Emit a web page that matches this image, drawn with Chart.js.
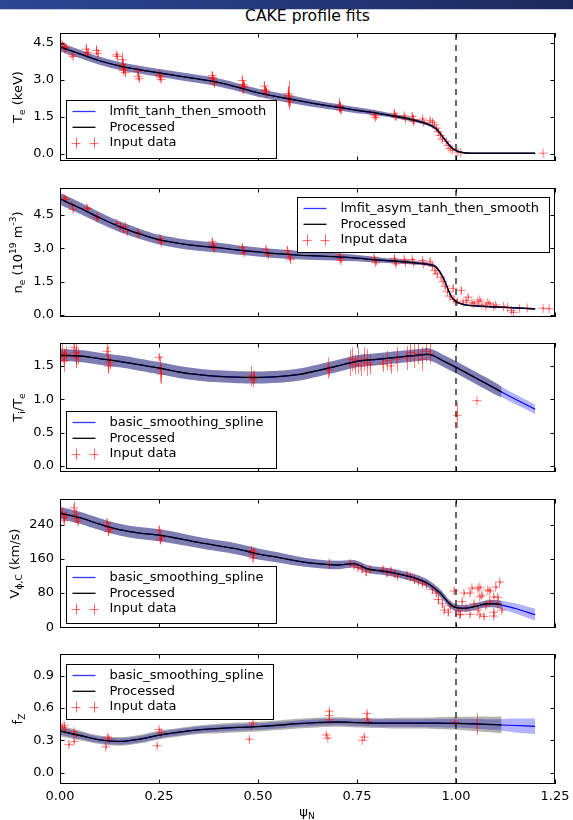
<!DOCTYPE html>
<html>
<head>
<meta charset="utf-8">
<script src="https://cdn.jsdelivr.net/npm/chart.js@4.4.1/dist/chart.umd.min.js"></script>
<style>
  body { margin: 0; background: #fff; }
  #wrap { position: relative; width: 573px; height: 820px; overflow: hidden; font-family: 'DejaVu Sans', sans-serif; }
  #bar { position: absolute; left: 0; top: 0; width: 573px; height: 9px; background: linear-gradient(to right, #2c4696, #1b2a5c); border-bottom: 1px solid #c5cbd8; }
  #title { position: absolute; left: 60px; width: 495px; top: 7px; line-height: 19px; text-align: center; font-size: 15.6px; color: #000; }
  canvas { position: absolute; left: 0; }
</style>
</head>
<body>
<div id="wrap">
  <div id="bar"></div>
  <div id="title">CAKE profile fits</div>
  <canvas id="c1"></canvas>
  <canvas id="c2"></canvas>
  <canvas id="c3"></canvas>
  <canvas id="c4"></canvas>
  <canvas id="c5"></canvas>
</div>
<script>
// ---- tick labels ----
const xTicks = [0, 0.25, 0.5, 0.75, 1.0, 1.25];
const teTicks = [0, 1.5, 3.0, 4.5];
const neTicks = [0, 1.5, 3.0, 4.5];
const tiTicks = [0, 0.5, 1.0, 1.5];
const vTicks = [0, 80, 160, 240];
const fzTicks = [0, 0.3, 0.6, 0.9];

// ---- Te fit ----
const teFitX = [0, 0.05, 0.1, 0.15, 0.2, 0.25, 0.3, 0.35, 0.4, 0.45, 0.5, 0.55, 0.6, 0.65, 0.7, 0.75, 0.8, 0.85, 0.9, 0.93, 0.95, 0.97, 0.99, 1.0, 1.02, 1.05, 1.1, 1.2];
const teFitY = [4.34, 4.06, 3.78, 3.57, 3.42, 3.29, 3.16, 3.04, 2.9, 2.7, 2.48, 2.32, 2.17, 2.02, 1.9, 1.77, 1.66, 1.52, 1.35, 1.2, 1.02, 0.62, 0.24, 0.14, 0.05, 0.03, 0.03, 0.03];
const teBand = [0.17, 0.17, 0.16, 0.16, 0.16, 0.16, 0.16, 0.16, 0.16, 0.16, 0.16, 0.16, 0.15, 0.14, 0.13, 0.12, 0.1, 0.08, 0.07, 0.06, 0.05, 0.05, 0.04, 0.03, 0.02, 0.02, 0.02, 0.02];
// ---- Te data ----
const teX = [0.005, 0.01, 0.012, 0.015, 0.03, 0.033, 0.066, 0.07, 0.068, 0.092, 0.095, 0.142, 0.145, 0.157, 0.158, 0.16, 0.16, 0.162, 0.165, 0.196, 0.197, 0.2, 0.25, 0.252, 0.255, 0.253, 0.384, 0.386, 0.388, 0.385, 0.39, 0.46, 0.462, 0.465, 0.462, 0.464, 0.516, 0.518, 0.52, 0.519, 0.576, 0.577, 0.579, 0.58, 0.578, 0.705, 0.707, 0.709, 0.706, 0.793, 0.795, 0.797, 0.844, 0.846, 0.848, 0.869, 0.872, 0.889, 0.891, 0.893, 0.915, 0.918, 0.934, 0.94, 0.945, 0.95, 0.955, 0.96, 0.965, 0.975, 0.98, 0.985, 0.99, 1.005, 1.012, 1.22];
const teY = [4.45, 4.35, 4.25, 4.3, 4.02, 3.95, 4.25, 4.12, 4.05, 4.2, 4.08, 4.02, 3.95, 3.82, 3.62, 3.5, 3.38, 3.45, 3.3, 3.35, 3.15, 3.05, 3.25, 3.12, 3.02, 3.18, 3.18, 3.05, 2.95, 3.1, 2.85, 2.98, 2.82, 2.7, 2.6, 2.75, 2.75, 2.6, 2.48, 2.55, 2.45, 2.32, 2.22, 2.12, 2.38, 1.98, 1.88, 1.78, 1.92, 1.62, 1.55, 1.48, 1.65, 1.55, 1.5, 1.55, 1.42, 1.52, 1.4, 1.32, 1.42, 1.28, 1.35, 1.28, 1.18, 1.05, 0.9, 0.75, 0.6, 0.5, 0.35, 0.22, 0.15, 0.08, 0.05, 0.03];
const teE = [0.12, 0.1, 0.1, 0.15, 0.08, 0.06, 0.2, 0.15, 0.1, 0.2, 0.15, 0.1, 0.1, 0.3, 0.25, 0.2, 0.15, 0.2, 0.15, 0.15, 0.15, 0.1, 0.1, 0.15, 0.1, 0.1, 0.15, 0.15, 0.1, 0.15, 0.1, 0.2, 0.2, 0.15, 0.15, 0.2, 0.2, 0.15, 0.2, 0.15, 0.3, 0.4, 0.2, 0.2, 0.6, 0.3, 0.2, 0.15, 0.2, 0.1, 0.1, 0.1, 0.15, 0.1, 0.1, 0.1, 0.1, 0.15, 0.2, 0.1, 0.1, 0.1, 0.1, 0.15, 0.1, 0.1, 0.15, 0.1, 0.1, 0.1, 0.1, 0.05, 0.05, 0.03, 0.03, 0.01];

// ---- ne fit ----
const neFitX = [0, 0.05, 0.1, 0.15, 0.2, 0.25, 0.3, 0.35, 0.4, 0.45, 0.5, 0.55, 0.6, 0.65, 0.7, 0.75, 0.8, 0.85, 0.9, 0.93, 0.95, 0.97, 0.98, 0.99, 1.0, 1.02, 1.06, 1.1, 1.15, 1.2];
const neFitY = [5.23, 4.82, 4.38, 3.98, 3.66, 3.39, 3.23, 3.11, 3.03, 2.92, 2.84, 2.76, 2.7, 2.66, 2.62, 2.56, 2.48, 2.42, 2.34, 2.28, 2.15, 1.6, 1.15, 0.78, 0.6, 0.47, 0.4, 0.36, 0.32, 0.27];
const neBand = [0.27, 0.26, 0.25, 0.24, 0.23, 0.22, 0.22, 0.22, 0.22, 0.21, 0.2, 0.2, 0.19, 0.18, 0.16, 0.14, 0.12, 0.1, 0.08, 0.07, 0.06, 0.05, 0.05, 0.04, 0.04, 0.03, 0.03, 0.03, 0.03, 0.03];
// ---- ne data ----
const neX = [0.01, 0.014, 0.03, 0.033, 0.067, 0.07, 0.092, 0.095, 0.143, 0.152, 0.16, 0.165, 0.17, 0.196, 0.199, 0.252, 0.254, 0.256, 0.384, 0.386, 0.388, 0.39, 0.46, 0.462, 0.465, 0.52, 0.523, 0.526, 0.574, 0.577, 0.58, 0.582, 0.705, 0.707, 0.709, 0.793, 0.795, 0.797, 0.844, 0.846, 0.848, 0.869, 0.872, 0.889, 0.893, 0.915, 0.918, 0.934, 0.94, 0.946, 0.952, 0.962, 0.967, 0.972, 0.978, 0.984, 0.992, 0.995, 1.003, 1.013, 1.018, 1.025, 1.03, 1.04, 1.045, 1.055, 1.06, 1.065, 1.075, 1.08, 1.085, 1.095, 1.1, 1.12, 1.13, 1.14, 1.145, 1.16, 1.18, 1.22, 1.235];
const neY = [5.27, 5.2, 4.95, 4.75, 4.82, 4.78, 4.42, 4.35, 4.12, 3.98, 3.88, 4.0, 3.75, 3.7, 3.65, 3.45, 3.35, 3.28, 3.3, 3.15, 3.05, 3.0, 3.05, 2.9, 2.8, 2.95, 2.8, 2.7, 2.9, 2.75, 2.6, 2.5, 2.7, 2.55, 2.45, 2.6, 2.45, 2.35, 2.55, 2.4, 2.3, 2.5, 2.35, 2.5, 2.35, 2.45, 2.3, 2.4, 2.2, 2.0, 1.85, 1.7, 1.5, 1.3, 1.05, 0.85, 1.2, 0.7, 0.6, 1.1, 0.55, 0.65, 0.8, 0.55, 0.5, 0.6, 0.68, 0.45, 0.4, 0.55, 0.5, 0.38, 0.45, 0.38, 0.35, 0.2, 0.12, 0.3, 0.32, 0.3, 0.28];
const neE = [0.1, 0.08, 0.1, 0.1, 0.1, 0.08, 0.1, 0.08, 0.1, 0.15, 0.15, 0.1, 0.1, 0.1, 0.08, 0.15, 0.1, 0.1, 0.15, 0.15, 0.1, 0.1, 0.15, 0.15, 0.1, 0.15, 0.1, 0.1, 0.2, 0.15, 0.15, 0.1, 0.15, 0.15, 0.1, 0.1, 0.1, 0.1, 0.15, 0.1, 0.1, 0.1, 0.1, 0.1, 0.1, 0.1, 0.1, 0.15, 0.15, 0.15, 0.1, 0.15, 0.1, 0.15, 0.1, 0.1, 0.15, 0.1, 0.1, 0.15, 0.08, 0.1, 0.1, 0.08, 0.08, 0.1, 0.08, 0.08, 0.08, 0.08, 0.08, 0.08, 0.08, 0.06, 0.06, 0.1, 0.05, 0.05, 0.05, 0.05, 0.05];

// ---- Ti/Te fit ----
const tiFitX = [0, 0.05, 0.1, 0.15, 0.2, 0.25, 0.3, 0.35, 0.4, 0.45, 0.5, 0.55, 0.6, 0.65, 0.7, 0.75, 0.8, 0.85, 0.9, 0.935, 0.97, 1.0, 1.05, 1.1, 1.115, 1.15, 1.2];
const tiFitY = [1.66, 1.65, 1.61, 1.57, 1.52, 1.47, 1.41, 1.37, 1.345, 1.332, 1.328, 1.34, 1.37, 1.43, 1.5, 1.57, 1.6, 1.63, 1.66, 1.67, 1.57, 1.48, 1.32, 1.16, 1.11, 1.0, 0.85];
const tiBand = [0.09, 0.09, 0.09, 0.09, 0.09, 0.09, 0.09, 0.09, 0.09, 0.09, 0.09, 0.09, 0.09, 0.09, 0.09, 0.09, 0.09, 0.09, 0.09, 0.09, 0.09, 0.09, 0.09, 0.09, 0.08, 0.075, 0.07];
// ---- Ti/Te data ----
const tiX = [0.005, 0.01, 0.01, 0.015, 0.035, 0.04, 0.04, 0.045, 0.118, 0.122, 0.122, 0.126, 0.25, 0.253, 0.256, 0.483, 0.487, 0.49, 0.676, 0.68, 0.732, 0.738, 0.745, 0.752, 0.76, 0.768, 0.776, 0.783, 0.815, 0.825, 0.835, 0.85, 0.875, 0.885, 0.895, 0.905, 0.915, 0.925, 0.935, 1.003, 1.053];
const tiY = [1.7, 1.64, 1.58, 1.68, 1.78, 1.7, 1.62, 1.65, 1.72, 1.6, 1.5, 1.55, 1.63, 1.45, 1.38, 1.35, 1.3, 1.33, 1.47, 1.44, 1.55, 1.6, 1.52, 1.58, 1.5, 1.6, 1.55, 1.52, 1.53, 1.58, 1.5, 1.6, 1.62, 1.7, 1.65, 1.68, 1.6, 1.72, 1.68, 0.76, 0.98];
const tiE = [0.15, 0.12, 0.17, 0.12, 0.15, 0.2, 0.15, 0.12, 0.15, 0.2, 0.12, 0.1, 0.05, 0.2, 0.15, 0.15, 0.12, 0.1, 0.16, 0.1, 0.2, 0.18, 0.15, 0.2, 0.15, 0.18, 0.2, 0.15, 0.12, 0.15, 0.12, 0.18, 0.18, 0.15, 0.18, 0.15, 0.18, 0.15, 0.15, 0.2, 0.01];

// ---- V_phi fit ----
const vFitX = [0, 0.05, 0.1, 0.15, 0.2, 0.25, 0.3, 0.35, 0.4, 0.45, 0.5, 0.55, 0.6, 0.65, 0.7, 0.74, 0.78, 0.82, 0.86, 0.9, 0.93, 0.96, 0.99, 1.02, 1.05, 1.08, 1.1, 1.115, 1.15, 1.2];
const vFitY = [268, 257, 242, 229, 221, 216, 208, 199, 191, 183, 172, 164, 155, 149, 146, 149, 136, 131, 124, 114, 102, 80, 50, 44, 49, 55, 55, 52, 44, 29];
const vBand = [14, 14, 14, 14, 14, 14, 14, 13, 13, 13, 13, 12, 11, 10, 10, 9, 9, 9, 9, 9, 9, 9, 8, 8, 8, 8, 9, 10, 12, 14];
// ---- V_phi data ----
const vX = [0.005, 0.01, 0.01, 0.015, 0.035, 0.04, 0.04, 0.045, 0.118, 0.122, 0.122, 0.126, 0.25, 0.253, 0.253, 0.256, 0.483, 0.487, 0.487, 0.49, 0.68, 0.732, 0.742, 0.752, 0.762, 0.772, 0.782, 0.815, 0.825, 0.835, 0.845, 0.852, 0.875, 0.885, 0.895, 0.905, 0.915, 0.925, 0.94, 0.95, 0.955, 0.965, 0.97, 0.98, 0.985, 0.995, 1.005, 1.01, 1.015, 1.025, 1.035, 1.035, 1.045, 1.055, 1.055, 1.065, 1.07, 1.075, 1.085, 1.085, 1.095, 1.105, 1.105, 1.115, 1.02, 1.04, 1.06, 1.06, 1.08, 1.095, 1.1, 1.11, 1.01, 1.06, 1.095];
const vY = [270, 258, 250, 262, 280, 265, 255, 248, 245, 235, 225, 230, 228, 215, 205, 210, 180, 172, 162, 176, 148, 150, 145, 140, 137, 130, 135, 135, 128, 132, 125, 120, 122, 118, 112, 108, 103, 100, 88, 80, 65, 55, 40, 35, 50, 85, 40, 30, 60, 45, 80, 30, 55, 90, 40, 75, 25, 50, 60, 85, 35, 55, 70, 40, 80, 92, 94, 71, 87, 71, 94, 106, 29, 29, 26];
const vE = [12, 10, 8, 8, 15, 12, 10, 8, 10, 12, 10, 8, 10, 12, 10, 8, 10, 12, 8, 8, 12, 8, 8, 8, 10, 10, 8, 8, 10, 8, 8, 8, 8, 8, 10, 8, 8, 8, 10, 8, 10, 10, 8, 8, 10, 8, 6, 6, 6, 6, 6, 6, 6, 6, 6, 6, 6, 6, 6, 6, 6, 6, 6, 6, 4, 4, 4, 4, 4, 4, 4, 4, 4, 4, 4];

// ---- f_Z fit ----
const fzFitX = [0, 0.05, 0.1, 0.15, 0.2, 0.25, 0.3, 0.35, 0.4, 0.45, 0.5, 0.55, 0.6, 0.65, 0.7, 0.75, 0.8, 0.85, 0.9, 0.95, 1.0, 1.05, 1.1, 1.115, 1.15, 1.2];
const fzFitY = [0.387, 0.345, 0.305, 0.29, 0.31, 0.348, 0.375, 0.398, 0.41, 0.42, 0.428, 0.44, 0.455, 0.465, 0.47, 0.465, 0.46, 0.46, 0.46, 0.46, 0.458, 0.452, 0.445, 0.443, 0.438, 0.43];
const fzFitBand = [0.035, 0.033, 0.03, 0.03, 0.03, 0.03, 0.03, 0.03, 0.03, 0.03, 0.03, 0.03, 0.03, 0.03, 0.03, 0.033, 0.035, 0.035, 0.036, 0.038, 0.04, 0.045, 0.05, 0.055, 0.065, 0.072];
const fzProcBand = [0.05, 0.045, 0.04, 0.04, 0.04, 0.04, 0.04, 0.04, 0.045, 0.045, 0.045, 0.045, 0.045, 0.045, 0.045, 0.045, 0.045, 0.05, 0.05, 0.055, 0.06, 0.068, 0.075, 0.078];
// ---- f_Z data ----
const fzX = [0.005, 0.01, 0.013, 0.022, 0.035, 0.04, 0.035, 0.12, 0.124, 0.115, 0.25, 0.255, 0.245, 0.487, 0.483, 0.478, 0.68, 0.68, 0.68, 0.672, 0.676, 0.775, 0.775, 0.778, 0.768, 0.763, 0.997, 1.053];
const fzY = [0.42, 0.44, 0.4, 0.26, 0.38, 0.35, 0.29, 0.33, 0.31, 0.24, 0.4, 0.37, 0.25, 0.46, 0.43, 0.31, 0.57, 0.53, 0.49, 0.35, 0.32, 0.55, 0.5, 0.47, 0.33, 0.3, 0.47, 0.45];
const fzE = [0.03, 0.03, 0.02, 0.02, 0.02, 0.02, 0.02, 0.02, 0.02, 0.02, 0.02, 0.02, 0.02, 0.02, 0.02, 0.02, 0.02, 0.02, 0.02, 0.02, 0.01, 0.02, 0.02, 0.02, 0.02, 0.01, 0.02, 0.1];

const panels = [
  { id: 'c1', top: 33, bottom: 161, yMin: -0.284, yMax: 4.905, yt: teTicks, dec: 1, smooth: 'monotone',
    fx: teFitX, fy: teFitY, fb: teBand, pb: teBand, procEnd: 1.2, px: teX, py: teY, pe: teE,
    fitName: 'lmfit_tanh_then_smooth', legend: { x: 66, y: 100, w: 210, h: 58 },
    label: [['T'], ['e', 'sub'], [' (keV)']], labelX: 21.5 },
  { id: 'c2', top: 188, bottom: 317, yMin: -0.09, yMax: 5.72, yt: neTicks, dec: 1, smooth: 'monotone',
    fx: neFitX, fy: neFitY, fb: neBand, pb: neBand, procEnd: 1.2, px: neX, py: neY, pe: neE,
    fitName: 'lmfit_asym_tanh_then_smooth', legend: { x: 297, y: 197, w: 252, h: 55 },
    label: [['n'], ['e', 'sub'], [' (10'], ['19', 'sup'], [' m'], ['-3', 'sup'], [')']], labelX: 21.5 },
  { id: 'c3', top: 343, bottom: 472, yMin: -0.09, yMax: 1.845, yt: tiTicks, dec: 1, smooth: 'default',
    fx: tiFitX, fy: tiFitY, fb: tiBand, pb: tiBand, procEnd: 1.115, px: tiX, py: tiY, pe: tiE,
    fitName: 'basic_smoothing_spline', legend: { x: 66, y: 411, w: 210, h: 57 },
    label: [['T'], ['i', 'sub'], ['/T'], ['e', 'sub']], labelX: 21.5 },
  { id: 'c4', top: 499, bottom: 628, yMin: -2, yMax: 301, yt: vTicks, dec: 0, smooth: 'monotone',
    fx: vFitX, fy: vFitY, fb: vBand, pb: vBand, procEnd: 1.115, px: vX, py: vY, pe: vE,
    fitName: 'basic_smoothing_spline', legend: { x: 66, y: 566, w: 210, h: 57 },
    label: [['V'], ['\u03D5,C', 'sub'], [' (km/s)']], labelX: 18.5 },
  { id: 'c5', top: 654, bottom: 784, yMin: -0.105, yMax: 1.101, yt: fzTicks, dec: 1, smooth: 'default', last: true,
    fx: fzFitX, fy: fzFitY, fb: fzFitBand, pb: fzProcBand, procEnd: 1.115, px: fzX, py: fzY, pe: fzE,
    fitName: 'basic_smoothing_spline', legend: { x: 66, y: 664, w: 207, h: 55 },
    label: [['f'], ['Z', 'sub']], labelX: 21.5 }
];

const FONT = '"DejaVu Sans"';
Chart.defaults.font.family = 'DejaVu Sans';
Chart.defaults.color = '#000';

function drawRich(ctx, parts, size) {
  const fonts = parts.map(p => (p[1] ? size * 0.7 : size) + 'px ' + FONT);
  let w = 0;
  const ws = parts.map((p, i) => { ctx.font = fonts[i]; const m = ctx.measureText(p[0]).width; w += m; return m; });
  let x = -w / 2;
  parts.forEach((p, i) => {
    ctx.font = fonts[i];
    const dy = p[1] === 'sub' ? size * 0.24 : p[1] === 'sup' ? -size * 0.42 : 0;
    ctx.fillText(p[0], x, dy);
    x += ws[i];
  });
}

// vertical error bars for the input data
const errBars = {
  id: 'errBars',
  beforeDatasetDraw(chart, args) {
    const ds = chart.data.datasets[args.index];
    if (!ds.errs) return;
    const { ctx, chartArea: a, scales: { x, y } } = chart;
    ctx.save();
    ctx.beginPath(); ctx.rect(a.left, a.top, a.right - a.left, a.bottom - a.top); ctx.clip();
    ctx.strokeStyle = ds.pointBorderColor; ctx.lineWidth = 1;
    ds.data.forEach((p, i) => {
      const px = Math.round(x.getPixelForValue(p.x)) + 0.5;
      ctx.beginPath();
      ctx.moveTo(px, y.getPixelForValue(p.y - ds.errs[i]));
      ctx.lineTo(px, y.getPixelForValue(p.y + ds.errs[i]));
      ctx.stroke();
    });
    ctx.restore();
  }
};

// axes frame, inward ticks, legend box, axis labels
const deco = {
  id: 'deco',
  afterDraw(chart, args, o) {
    const p = o.panel;
    const { ctx, chartArea: a, scales: { x, y } } = chart;
    const ct = p.top - 10;
    ctx.save();
    ctx.strokeStyle = '#000'; ctx.lineWidth = 1;
    ctx.strokeRect(Math.round(a.left) + 0.5, Math.round(a.top) + 0.5, Math.round(a.right - a.left) - 1, Math.round(a.bottom - a.top) - 1);
    ctx.beginPath();
    xTicks.forEach(v => {
      const px = Math.round(x.getPixelForValue(v)) + 0.5;
      ctx.moveTo(px, a.top); ctx.lineTo(px, a.top + 4.5);
      ctx.moveTo(px, a.bottom); ctx.lineTo(px, a.bottom - 4.5);
    });
    p.yt.forEach(v => {
      const py = Math.round(y.getPixelForValue(v)) + 0.5;
      ctx.moveTo(a.left, py); ctx.lineTo(a.left + 4.5, py);
      ctx.moveTo(a.right, py); ctx.lineTo(a.right - 4.5, py);
    });
    ctx.stroke();

    // legend
    const L = p.legend, ly = L.y - ct;
    ctx.fillStyle = '#fff';
    ctx.fillRect(L.x, ly, L.w, L.h);
    ctx.strokeRect(L.x + 0.5, ly + 0.5, L.w, L.h);
    const rows = [ly + 11.5, ly + 27.3, ly + 43.1];
    const l0 = L.x + 6.5, l1 = L.x + 29.5;
    ctx.lineWidth = 1.3;
    ctx.strokeStyle = 'rgba(0,0,255,0.8)';
    ctx.beginPath(); ctx.moveTo(l0, rows[0]); ctx.lineTo(l1, rows[0]); ctx.stroke();
    ctx.strokeStyle = '#000';
    ctx.beginPath(); ctx.moveTo(l0, rows[1]); ctx.lineTo(l1, rows[1]); ctx.stroke();
    ctx.strokeStyle = 'rgba(255,0,0,0.6)'; ctx.lineWidth = 1;
    [L.x + 10, L.x + 28].forEach(cx => {
      ctx.beginPath();
      ctx.moveTo(cx - 4.5, rows[2] + 0.5); ctx.lineTo(cx + 4.5, rows[2] + 0.5);
      ctx.moveTo(Math.round(cx) + 0.5, rows[2] - 5.5); ctx.lineTo(Math.round(cx) + 0.5, rows[2] + 5.5);
      ctx.stroke();
    });
    ctx.fillStyle = '#000';
    ctx.font = '13px ' + FONT;
    ctx.textBaseline = 'middle';
    [p.fitName, 'Processed', 'Input data'].forEach((t, i) => ctx.fillText(t, L.x + 43.5, rows[i]));

    // y label
    ctx.textBaseline = 'alphabetic';
    ctx.save();
    ctx.translate(p.labelX, (p.top + p.bottom) / 2 - ct);
    ctx.rotate(-Math.PI / 2);
    drawRich(ctx, p.label, 13);
    ctx.restore();

    if (p.last) {
      ctx.save();
      ctx.translate(307, 816 - ct);
      drawRich(ctx, [['\u03C8'], ['N', 'sub']], 13);
      ctx.restore();
    }
    ctx.restore();
  }
};

function pts(xs, ys) { return xs.map((x, i) => ({ x: x, y: ys[i] })); }

panels.forEach(p => {
  const canvas = document.getElementById(p.id);
  const ct = p.top - 10;
  const h = p.last ? 820 - ct : p.bottom - p.top + 20;
  canvas.width = 573; canvas.height = h;
  canvas.style.top = ct + 'px';
  canvas.style.width = '573px'; canvas.style.height = h + 'px';

  const N = p.fx.length;
  const n = p.fx.filter(v => v <= p.procEnd + 1e-9).length;
  const fit = pts(p.fx, p.fy);
  const proc = fit.slice(0, n);
  const band = (b, s, m) => p.fx.slice(0, m).map((v, i) => ({ x: v, y: p.fy[i] + s * b[i] }));
  const lineBase = { type: 'line', pointRadius: 0, cubicInterpolationMode: p.smooth, tension: 0.35 };

  new Chart(canvas.getContext('2d'), {
    type: 'line',
    data: {
      datasets: [
        { type: 'line', data: [{ x: 1, y: p.yMin }, { x: 1, y: p.yMax }], borderColor: '#000', borderWidth: 1.2, borderDash: [6, 5], pointRadius: 0, order: 0 },
        Object.assign({}, lineBase, { label: 'Processed', data: proc, borderColor: '#000', borderWidth: 1.3, order: 1 }),
        Object.assign({}, lineBase, { label: p.fitName, data: fit, borderColor: '#0000ff', borderWidth: 1.1, order: 2 }),
        { type: 'scatter', label: 'Input data', data: pts(p.px, p.py), errs: p.pe, pointStyle: 'cross', pointRadius: 4.5,
          pointBorderColor: 'rgba(255,0,0,0.5)', borderColor: 'rgba(255,0,0,0.5)', pointBorderWidth: 1, order: 3 },
        Object.assign({}, lineBase, { data: band(p.pb, 1, n), fill: '+1', backgroundColor: 'rgba(0,0,0,0.3)', borderWidth: 0, order: 4 }),
        Object.assign({}, lineBase, { data: band(p.pb, -1, n), borderWidth: 0, order: 5 }),
        Object.assign({}, lineBase, { data: band(p.fb, 1, N), fill: '+1', backgroundColor: 'rgba(0,0,255,0.3)', borderWidth: 0, order: 6 }),
        Object.assign({}, lineBase, { data: band(p.fb, -1, N), borderWidth: 0, order: 7 })
      ]
    },
    options: {
      responsive: false,
      animation: false,
      events: [],
      layout: { padding: { left: 0, right: 18, top: 10, bottom: 0 } },
      plugins: { legend: { display: false }, tooltip: { enabled: false }, deco: { panel: p } },
      scales: {
        x: {
          type: 'linear', min: 0, max: 1.25,
          grid: { display: false, drawTicks: false }, border: { display: false },
          afterBuildTicks: s => { s.ticks = xTicks.map(v => ({ value: v })); },
          afterFit: s => { s.height = p.last ? 36 : 10; s.paddingLeft = 0; s.paddingRight = 0; },
          ticks: { display: !!p.last, padding: 5, font: { size: 13 }, color: '#000', maxRotation: 0,
                   callback: v => Number(v).toFixed(2) }
        },
        y: {
          type: 'linear', min: p.yMin, max: p.yMax,
          grid: { display: false, drawTicks: false }, border: { display: false },
          afterBuildTicks: s => { s.ticks = p.yt.map(v => ({ value: v })); },
          afterFit: s => { s.width = 60; s.paddingTop = 0; s.paddingBottom = 0; },
          ticks: { padding: 6, font: { size: 13 }, color: '#000', callback: v => Number(v).toFixed(p.dec) }
        }
      }
    },
    plugins: [errBars, deco]
  });
});
</script>
</body>
</html>
